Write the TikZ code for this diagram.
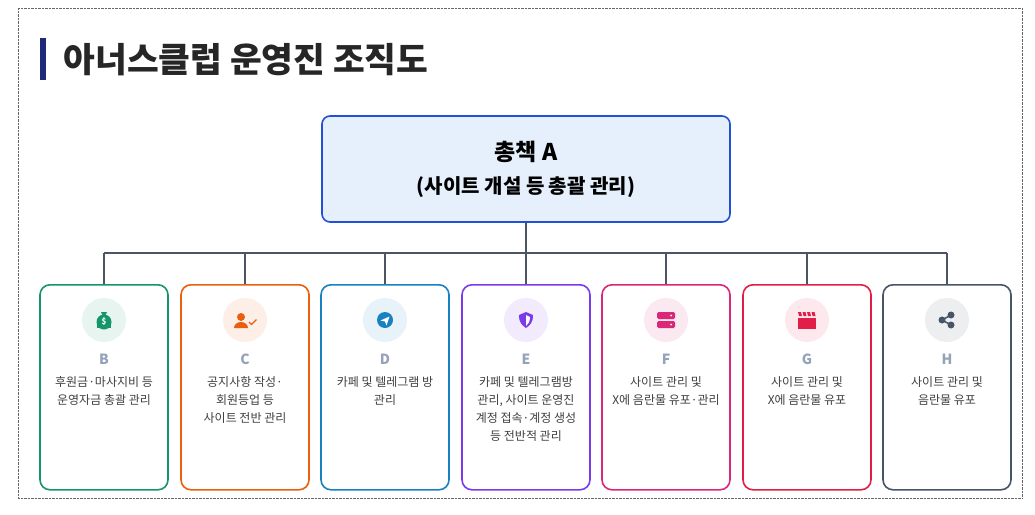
\documentclass[tikz,border=0pt]{standalone}
\usepackage{fontspec}
\setmainfont{Noto Sans CJK KR}
\usetikzlibrary{positioning}
\definecolor{cB}{HTML}{15956A}
\definecolor{cC}{HTML}{E8600F}
\definecolor{cD}{HTML}{1980C2}
\definecolor{cE}{HTML}{7C3AED}
\definecolor{cF}{HTML}{DB2777}
\definecolor{cG}{HTML}{E11D48}
\definecolor{cH}{HTML}{475569}
\definecolor{navy}{HTML}{1E2A78}
\definecolor{rootblue}{HTML}{2350D8}
\definecolor{rootfill}{HTML}{E6F0FD}
\definecolor{linegray}{HTML}{4B5563}
\definecolor{lettergray}{HTML}{94A3B8}
\begin{document}
\begin{tikzpicture}[x=1pt,y=-1pt,
  role/.style={draw=#1, line width=1.6pt, rounded corners=10pt, fill=white,
    minimum width=128pt, minimum height=205pt, anchor=north},
  rootbox/.style={draw=rootblue, line width=1.6pt, rounded corners=8pt, fill=rootfill,
    minimum width=408pt, minimum height=106pt, align=center},
  iconbg/.style={circle, fill=#1!10, minimum size=44pt, inner sep=0pt},
  letter/.style={text=lettergray, font=\bfseries\fontsize{14}{14}\selectfont},
  duty/.style={text=black!75, font=\fontsize{12}{18}\selectfont, align=center, anchor=north},
  tree/.style={draw=linegray, line width=1.5pt}
  ]
  \useasboundingbox (0,0) rectangle (1035,514);
  \draw[black!60, densely dotted] (18,8) rectangle (1022,498);
  % title
  \fill[navy] (40,38) rectangle (46,80);
  \node[anchor=west, font=\bfseries\fontsize{34.5}{34.5}\selectfont, text=black!85] (title) at (60,60) {아너스클럽 운영진 조직도};
  % root
  \node[rootbox] (root) at (526,169) {{\bfseries\fontsize{23}{23}\selectfont 총책 A}\\[13pt]
    {\bfseries\fontsize{20}{20}\selectfont (사이트 개설 등 총괄 관리)}};
  \coordinate (hub) at (526,253);
  \draw[tree] (root.south) -- (hub);
  % members
  \foreach \n/\x/\txt in {B/104/{후원금·마사지비 등\\운영자금 총괄 관리},
      C/245/{공지사항 작성·\\회원등업 등\\사이트 전반 관리},
      D/385/{카페 및 텔레그램 방\\관리},
      E/526/{카페 및 텔레그램방\\관리, 사이트 운영진\\계정 접속·계정 생성\\등 전반적 관리},
      F/666/{사이트 관리 및\\X에 음란물 유포·관리},
      G/807/{사이트 관리 및\\X에 음란물 유포},
      H/947/{사이트 관리 및\\음란물 유포}} {
    \node[role=c\n] (\n) at (\x,284) {};
    \node[iconbg=c\n] (\n icon) at (\x,320) {};
    \node[letter] (\n name) at (\x,359) {\n};
    \node[duty] (\n duty) at (\x,373) {\txt};
    \draw[tree] (\x,253) -- (\n.north);
  }
  \draw[tree] (104,253) -- (947,253);
  % icons
  \fill[cB] (Bicon.center) ++(-7,-1) rectangle ++(14,9);
  \fill[cB] (Bicon.center) ++(0,2) circle (7.5pt);
  \fill[cB] (Bicon.center) ++(-3,-8) -- ++(6,0) -- ++(-2,4) -- ++(-2,0) -- cycle;
  \node[text=white, font=\bfseries\fontsize{8}{8}\selectfont] at ([yshift=-2pt]Bicon.center) {\$};
  \fill[cC] (Cicon.center) ++(-4,-3) circle (4pt);
  \fill[cC] (Cicon.center) ++(-11,8) arc (180:360:7 and 6) -- cycle;
  \draw[cC, line width=1.3pt] (Cicon.center) ++(4,2) -- ++(2.5,2.5) -- ++(5,-5);
  \fill[cD] (Dicon.center) circle (8pt);
  \fill[white] (Dicon.center) ++(-4.5,0.5) -- ++(9,-4) -- ++(-3,9) -- ++(-1.5,-4) -- cycle;
  \fill[cE] (Eicon.center) ++(0,-8) -- ++(7,3) .. controls +(0,8) and +(4,-3) .. ++(-7,13)
    .. controls +(-4,-3) and +(0,8) .. ++(-7,-13) -- cycle;
  \fill[white] (Eicon.center) ++(0,-5) -- ++(4,2) .. controls +(0,5) and +(2,-2) .. ++(-4,9) -- cycle;
  \fill[cF, rounded corners=1.5pt] (Ficon.center) ++(-9,-8) rectangle ++(18,7);
  \fill[cF, rounded corners=1.5pt] (Ficon.center) ++(-9,1) rectangle ++(18,7);
  \fill[white] (Ficon.center) ++(5,-4.5) circle (1pt) ++(0,9) circle (1pt);
  \fill[cG] (Gicon.center) ++(-9,-2) rectangle ++(18,11);
  \foreach \k in {0,1,2,3} \fill[cG] (Gicon.center) ++(-9+4.5*\k,-8) -- ++(3,0) -- ++(1,4) -- ++(-3,0) -- cycle;
  \draw[cH, line width=1.5pt] ([xshift=-5pt]Hicon.center) -- ([xshift=4pt,yshift=-5pt]Hicon.center)
    ([xshift=-5pt]Hicon.center) -- ([xshift=4pt,yshift=5pt]Hicon.center);
  \fill[cH] ([xshift=-5pt]Hicon.center) circle (3.5pt) ([xshift=4pt,yshift=-5pt]Hicon.center) circle (3.5pt)
    ([xshift=4pt,yshift=5pt]Hicon.center) circle (3.5pt);
\end{tikzpicture}
\end{document}
